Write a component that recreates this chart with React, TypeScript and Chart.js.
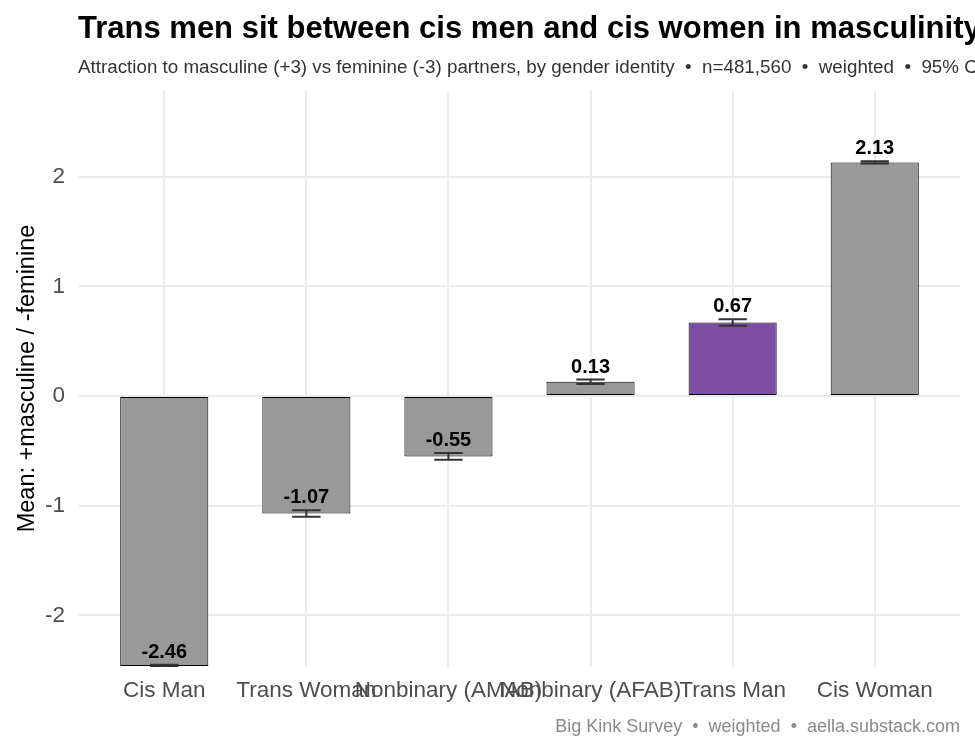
import React, { useEffect, useRef } from 'react';
import { Chart, registerables } from 'chart.js';

Chart.register(...registerables);

const categories = ['Cis Man', 'Trans Woman', 'Nonbinary (AMAB)', 'Nonbinary (AFAB)', 'Trans Man', 'Cis Woman'];
const means = [-2.46, -1.07, -0.55, 0.13, 0.67, 2.13];
const ciLow = [-2.47, -1.1, -0.58, 0.11, 0.64, 2.12];
const ciHigh = [-2.45, -1.04, -0.52, 0.15, 0.7, 2.14];
const barColors = ['#999999', '#999999', '#999999', '#999999', '#7B4EA3', '#999999'];
const yTicks = [-2, -1, 0, 1, 2];

const titleText = 'Trans men sit between cis men and cis women in masculinity preference';
const subtitleText = 'Attraction to masculine (+3) vs feminine (-3) partners, by gender identity  \u2022  n=481,560  \u2022  weighted  \u2022  95% CI';
const captionText = 'Big Kink Survey  \u2022  weighted  \u2022  aella.substack.com';
const yAxisTitle = 'Mean: +masculine / -feminine';

const FONT = '"Liberation Sans", Arial, Helvetica, sans-serif';

export default function App() {
  const ref = useRef<HTMLCanvasElement>(null);

  useEffect(() => {
    if (!ref.current) return;

    const errorBarsAndLabels = {
      id: 'errorBarsAndLabels',
      afterDatasetsDraw(chart: any) {
        const { ctx, chartArea, scales } = chart;
        const x = scales.x;
        const y = scales.y;
        const half = (x.getPixelForValue(1) - x.getPixelForValue(0)) * 0.1;
        ctx.save();
        ctx.beginPath();
        ctx.rect(chartArea.left, chartArea.top, chartArea.right - chartArea.left, chartArea.bottom - chartArea.top);
        ctx.clip();
        ctx.strokeStyle = '#333333';
        ctx.lineWidth = 2;
        categories.forEach((_, i) => {
          const px = x.getPixelForValue(i);
          const lo = y.getPixelForValue(ciLow[i]);
          const hi = y.getPixelForValue(ciHigh[i]);
          ctx.beginPath();
          ctx.moveTo(px, lo);
          ctx.lineTo(px, hi);
          ctx.moveTo(px - half, lo);
          ctx.lineTo(px + half, lo);
          ctx.moveTo(px - half, hi);
          ctx.lineTo(px + half, hi);
          ctx.stroke();
        });
        ctx.restore();

        ctx.save();
        ctx.font = `bold 20px ${FONT}`;
        ctx.fillStyle = '#000000';
        ctx.textAlign = 'center';
        ctx.textBaseline = 'alphabetic';
        means.forEach((m, i) => {
          const px = x.getPixelForValue(i);
          ctx.fillText(m.toFixed(2), px, y.getPixelForValue(ciHigh[i]) - 7);
        });
        ctx.restore();
      },
    };

    const texts = {
      id: 'texts',
      afterDraw(chart: any) {
        const { ctx, chartArea } = chart;
        ctx.save();
        ctx.textBaseline = 'alphabetic';
        ctx.textAlign = 'left';
        ctx.fillStyle = '#000000';
        ctx.font = `bold 31px ${FONT}`;
        ctx.fillText(titleText, 78, 38);
        ctx.fillStyle = '#333333';
        ctx.font = `18.8px ${FONT}`;
        ctx.fillText(subtitleText, 78, 73);
        ctx.fillStyle = '#8a8a8a';
        ctx.textAlign = 'right';
        ctx.font = `18px ${FONT}`;
        ctx.fillText(captionText, chartArea.right, 732);
        ctx.restore();
      },
    };

    const chart = new Chart(ref.current, {
      type: 'bar',
      data: {
        datasets: [
          {
            data: means.map((v, i) => ({ x: i, y: v })),
            backgroundColor: barColors,
            borderColor: '#000000',
            borderWidth: 1,
            borderSkipped: false,
            barPercentage: 0.62,
            categoryPercentage: 1,
          } as any,
        ],
      },
      options: {
        responsive: false,
        animation: false,
        devicePixelRatio: 1,
        layout: { padding: { top: 90, right: 15, bottom: 33, left: 0 } },
        plugins: {
          legend: { display: false },
          tooltip: { enabled: false },
          title: { display: false },
        },
        scales: {
          x: {
            type: 'linear',
            min: -0.6,
            max: 5.6,
            offset: false,
            afterFit: (s: any) => {
              s.height = 50;
            },
            afterBuildTicks: (s: any) => {
              s.ticks = categories.map((_, i) => ({ value: i }));
            },
            grid: { color: '#ebebeb', lineWidth: 2, drawTicks: false, offset: false },
            border: { display: false },
            ticks: {
              autoSkip: false,
              maxRotation: 0,
              minRotation: 0,
              padding: 10,
              color: '#4d4d4d',
              font: { family: FONT, size: 22.5 },
              callback: (v: any) => categories[Math.round(Number(v))],
            },
          },
          y: {
            type: 'linear',
            min: -2.47,
            max: 2.79,
            afterFit: (s: any) => {
              s.width = 79;
            },
            afterBuildTicks: (s: any) => {
              s.ticks = yTicks.map((v) => ({ value: v }));
            },
            grid: { color: '#ebebeb', lineWidth: 2, drawTicks: false },
            border: { display: false },
            ticks: {
              padding: 14,
              color: '#4d4d4d',
              font: { family: FONT, size: 22.5 },
              callback: (v: any) => String(v),
            },
            title: {
              display: true,
              text: yAxisTitle,
              color: '#000000',
              font: { family: FONT, size: 23.5 },
              padding: { top: 13, bottom: 0 },
            },
          },
        },
      } as any,
      plugins: [errorBarsAndLabels, texts],
    });

    return () => chart.destroy();
  }, []);

  return (
    <div style={{ position: 'fixed', left: 0, top: 0, width: 975, height: 750, background: '#ffffff' }}>
      <canvas ref={ref} width={975} height={750} />
    </div>
  );
}
